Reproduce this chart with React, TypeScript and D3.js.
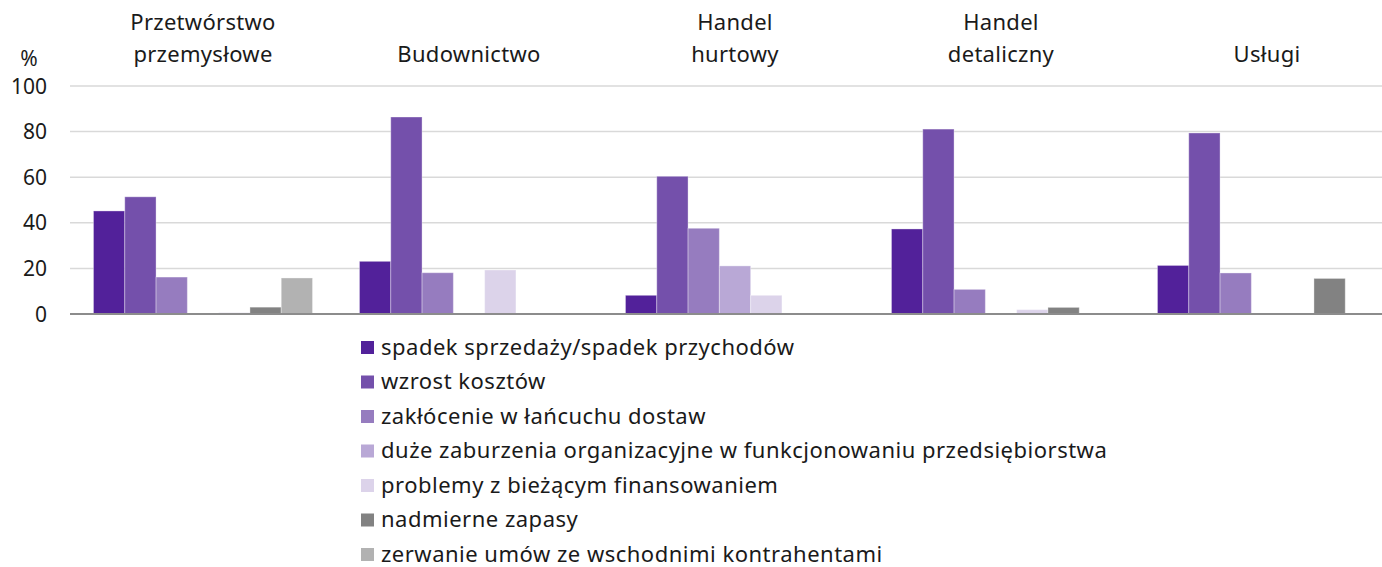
import React from 'react';
import * as d3 from 'd3';

const categories = [
  ['Przetwórstwo', 'przemysłowe'],
  ['Budownictwo'],
  ['Handel', 'hurtowy'],
  ['Handel', 'detaliczny'],
  ['Usługi'],
];

const seriesNames = [
  'spadek sprzedaży/spadek przychodów',
  'wzrost kosztów',
  'zakłócenie w łańcuchu dostaw',
  'duże zaburzenia organizacyjne w funkcjonowaniu przedsiębiorstwa',
  'problemy z bieżącym finansowaniem',
  'nadmierne zapasy',
  'zerwanie umów ze wschodnimi kontrahentami',
];

const seriesColors = ['#52219a', '#7450ab', '#967cbf', '#b9a8d6', '#dcd3ea', '#828282', '#b2b2b2'];

// values per category, in series order
const przetworstwo = [45.2, 51.4, 16.2, 0, 0.6, 3, 15.8];
const budownictwo = [23.1, 86.4, 18.1, 0, 19.3, 0, 0];
const hurt = [8.2, 60.4, 37.6, 21.1, 8.2, 0, 0];
const detal = [37.3, 81.1, 10.8, 0, 1.9, 2.9, 0];
const uslugi = [21.3, 79.4, 18, 0, 0, 15.6, 0];
const values = [przetworstwo, budownictwo, hurt, detal, uslugi];

const yTicks = [0, 20, 40, 60, 80, 100];

const W = 1382;
const H = 567;
const font = '"Noto Sans", sans-serif';

export default function App() {
  const x0 = d3
    .scaleBand<number>()
    .domain(categories.map((_, i) => i))
    .range([70, 1400]);
  const x1 = d3
    .scaleBand<number>()
    .domain(seriesNames.map((_, i) => i))
    .range([0, x0.bandwidth()])
    .paddingInner(0)
    .paddingOuter(0.75);
  const y = d3.scaleLinear().domain([0, 100]).range([314, 86]);

  return (
    <svg width={W} height={H} style={{ position: 'absolute', left: 0, top: 0 }} fontFamily={font}>
      {yTicks.map(t => (
        <g key={t}>
          {t > 0 && (
            <line x1={70} x2={W} y1={y(t)} y2={y(t)} stroke="#d9d9d9" strokeWidth={1.5} />
          )}
          <text x={47} y={y(t)} dy="0.36em" textAnchor="end" fontSize={21} fill="#1a1a1a">
            {t}
          </text>
        </g>
      ))}
      <text x={29} y={66} textAnchor="middle" fontSize={21} fill="#1a1a1a">%</text>

      {values.map((vals, ci) => (
        <g key={ci} transform={`translate(${x0(ci)},0)`}>
          {vals.map((v, si) =>
            v > 0 ? (
              <rect
                key={si}
                x={x1(si)}
                y={y(v)}
                width={x1.bandwidth()}
                height={y(0) - y(v)}
                fill={seriesColors[si]}
                stroke="#ffffff"
                strokeOpacity={0.35}
                strokeWidth={1}
              />
            ) : null
          )}
        </g>
      ))}
      <line x1={70} x2={W} y1={y(0)} y2={y(0)} stroke="#8c8c8c" strokeWidth={2} />

      {categories.map((lines, ci) => {
        const cx = (x0(ci) as number) + x0.bandwidth() / 2;
        const startY = lines.length === 2 ? 30 : 62;
        return (
          <text key={ci} x={cx} textAnchor="middle" fontSize={22} letterSpacing={0.3} fill="#1a1a1a">
            {lines.map((l, li) => (
              <tspan key={li} x={cx} y={startY + li * 32}>
                {l}
              </tspan>
            ))}
          </text>
        );
      })}

      {seriesNames.map((name, si) => {
        const cy = 347.5 + si * 34.5;
        return (
          <g key={si}>
            <rect x={361} y={cy - 6.5} width={13} height={13} fill={seriesColors[si]} />
            <text x={381} y={cy} dy="0.34em" fontSize={22} letterSpacing={0.5} fill="#1a1a1a">
              {name}
            </text>
          </g>
        );
      })}
    </svg>
  );
}
